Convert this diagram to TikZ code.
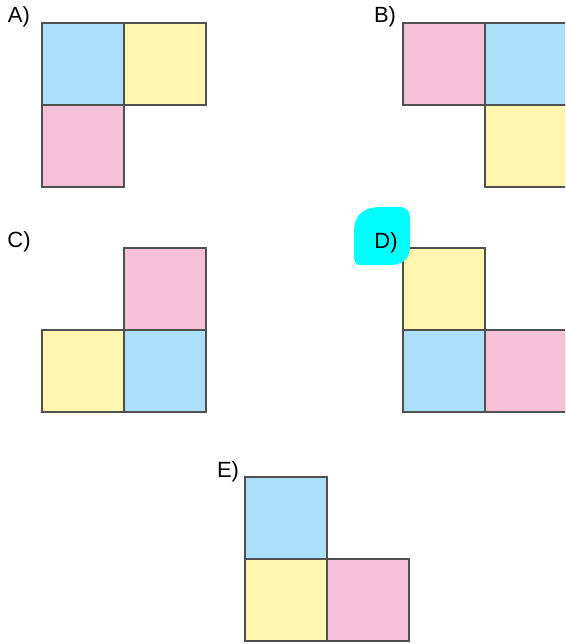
\documentclass[tikz,border=0pt]{standalone}
\usepackage{fontspec}
\setmainfont{Liberation Sans}
\usepackage{tikz}
\usepackage{xcolor}
\definecolor{tileblue}{HTML}{ABDFFA}
\definecolor{tileyellow}{HTML}{FFF6B0}
\definecolor{tilepink}{HTML}{F5C1D9}
\definecolor{tileedge}{HTML}{505050}
\definecolor{marker}{HTML}{00FFFF}

\begin{document}
\begin{tikzpicture}[x=1pt,y=-1pt,every node/.style={font=\fontsize{22}{26}\selectfont},
  tile/.style={draw=tileedge,line width=1.2pt}]
\clip (0,0) rectangle (565,644);
\fill[white] (0,0) rectangle (565,644);
% A
\fill[tileblue] (42,23) rectangle (124,105);
\draw[tile] (42,23) rectangle (124,105);
\fill[tileyellow] (124,23) rectangle (206,105);
\draw[tile] (124,23) rectangle (206,105);
\fill[tilepink] (42,105) rectangle (124,187);
\draw[tile] (42,105) rectangle (124,187);
\node (labA) at (19,17) {A)};
% B
\fill[tilepink] (403,23) rectangle (485,105);
\draw[tile] (403,23) rectangle (485,105);
\fill[tileblue] (485,23) rectangle (567,105);
\draw[tile] (485,23) rectangle (567,105);
\fill[tileyellow] (485,105) rectangle (567,187);
\draw[tile] (485,105) rectangle (567,187);
\node (labB) at (385,17) {B)};
% C
\fill[tilepink] (124,248) rectangle (206,330);
\draw[tile] (124,248) rectangle (206,330);
\fill[tileyellow] (42,330) rectangle (124,412);
\draw[tile] (42,330) rectangle (124,412);
\fill[tileblue] (124,330) rectangle (206,412);
\draw[tile] (124,330) rectangle (206,412);
\node (labC) at (19,242) {C)};
% D
\fill[tileyellow] (403,248) rectangle (485,330);
\draw[tile] (403,248) rectangle (485,330);
\fill[tileblue] (403,330) rectangle (485,412);
\draw[tile] (403,330) rectangle (485,412);
\fill[tilepink] (485,330) rectangle (567,412);
\draw[tile] (485,330) rectangle (567,412);
\fill[marker] (354,256) -- (354,232) .. controls (354,214) and (364,207) .. (382,207)
  -- (398,207) .. controls (408,207) and (410,211) .. (410,222)
  -- (410,246) .. controls (410,258) and (404,264) .. (392,265)
  -- (360,265) .. controls (356,265) and (354,262) .. (354,256) -- cycle;
\node (labD) at (386,243) {D)};
% E
\fill[tileblue] (245,477) rectangle (327,559);
\draw[tile] (245,477) rectangle (327,559);
\fill[tileyellow] (245,559) rectangle (327,641);
\draw[tile] (245,559) rectangle (327,641);
\fill[tilepink] (327,559) rectangle (409,641);
\draw[tile] (327,559) rectangle (409,641);
\node (labE) at (228,472) {E)};
\end{tikzpicture}
\end{document}
